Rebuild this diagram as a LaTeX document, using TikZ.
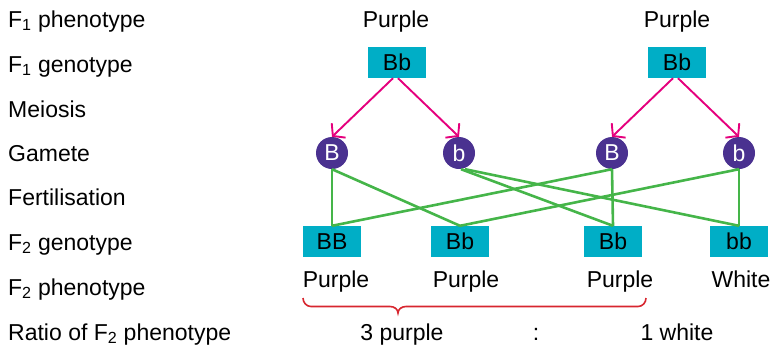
\documentclass[tikz,border=0pt]{standalone}
\usepackage{fontspec}
\setmainfont{Liberation Sans}
\usepackage{tikz}
\usetikzlibrary{positioning, arrows, arrows.meta}

\definecolor{boxcyan}{HTML}{00AEC6}
\definecolor{gamviolet}{HTML}{4A3190}
\definecolor{meiomag}{HTML}{E5007D}
\definecolor{fertgreen}{HTML}{45B549}
\definecolor{bracered}{HTML}{D7262F}

\tikzset{
  rowlabel/.style={anchor=base west, inner sep=0pt},
  pheno/.style={anchor=base, inner sep=0pt},
  geno/.style={fill=boxcyan, minimum width=58bp, minimum height=31bp, inner sep=0pt},
  gamete/.style={circle, fill=gamviolet, text=white, minimum size=32bp, inner sep=0pt},
  meio/.style={meiomag, line width=1.9bp, -{Straight Barb[length=8bp,width=20bp,line width=1.9bp]}},
  fert/.style={fertgreen, line width=2.6bp},
}

\begin{document}
\begin{tikzpicture}[x=1bp,y=-1bp,font=\fontsize{23bp}{27bp}\selectfont]
\useasboundingbox (0,0) rectangle (772,349);

% row labels
\node[rowlabel] (l1) at (8,27) {F\textsubscript{1} phenotype};
\node[rowlabel] (l2) at (8,72) {F\textsubscript{1} genotype};
\node[rowlabel] (l3) at (8,117) {Meiosis};
\node[rowlabel] (l4) at (8,161) {Gamete};
\node[rowlabel] (l5) at (8,205) {Fertilisation};
\node[rowlabel] (l6) at (8,250) {F\textsubscript{2} genotype};
\node[rowlabel] (l7) at (8,295) {F\textsubscript{2} phenotype};
\node[rowlabel] (l8) at (8,340) {Ratio of F\textsubscript{2} phenotype};

% parents
\node[pheno] (ph1) at (396,27) {Purple};
\node[pheno] (ph2) at (677,27) {Purple};
\node[geno] (pa) at (397,62.5) {Bb};
\node[geno] (pb) at (677,62.5) {Bb};

% gametes
\node[gamete] (ga1) at (332,153) {B};
\node[gamete] (ga2) at (459,153) {b};
\node[gamete] (gb1) at (612,153) {B};
\node[gamete] (gb2) at (739,153) {b};

\draw[meio] ([xshift=-4bp]pa.south) -- (ga1.north);
\draw[meio] ([xshift=1bp]pa.south) -- (ga2.north);
\draw[meio] ([xshift=-4bp]pb.south) -- (gb1.north);
\draw[meio] ([xshift=1bp]pb.south) -- (gb2.north);

% offspring
\node[geno] (o1) at (332,241.5) {BB};
\node[geno] (o2) at (460,241.5) {Bb};
\node[geno] (o3) at (613,241.5) {Bb};
\node[geno] (o4) at (739,241.5) {bb};

\draw[fert] (ga1.south) -- (o1.north);
\draw[fert] (ga1.south) -- (o2.north);
\draw[fert] ([xshift=2bp]ga2.south) -- (o3.north);
\draw[fert] ([xshift=6bp]ga2.south) -- (o4.north);
\draw[fert] (gb1.south) -- (o1.north);
\draw[fert] (gb1.south) -- (o3.north);
\draw[fert] (gb2.south) -- (o2.north);
\draw[fert] (gb2.south) -- (o4.north);

\node[pheno] (f1) at (336,287) {Purple};
\node[pheno] (f2) at (466,287) {Purple};
\node[pheno] (f3) at (620,287) {Purple};
\node[pheno] (f4) at (741,287) {White};

% brace and ratio
\draw[bracered, line width=1.6bp] (303,298) to[out=-90,in=180] (311,306.5) -- (390,306.5)
  to[out=0,in=90] (398,313) to[out=90,in=180] (406,306.5) -- (638,306.5) to[out=0,in=-90] (646,298);

\node[pheno] (r1) at (402,340) {3 purple};
\node[pheno] (r2) at (536,340) {:};
\node[pheno] (r3) at (677,340) {1 white};
\end{tikzpicture}
\end{document}
